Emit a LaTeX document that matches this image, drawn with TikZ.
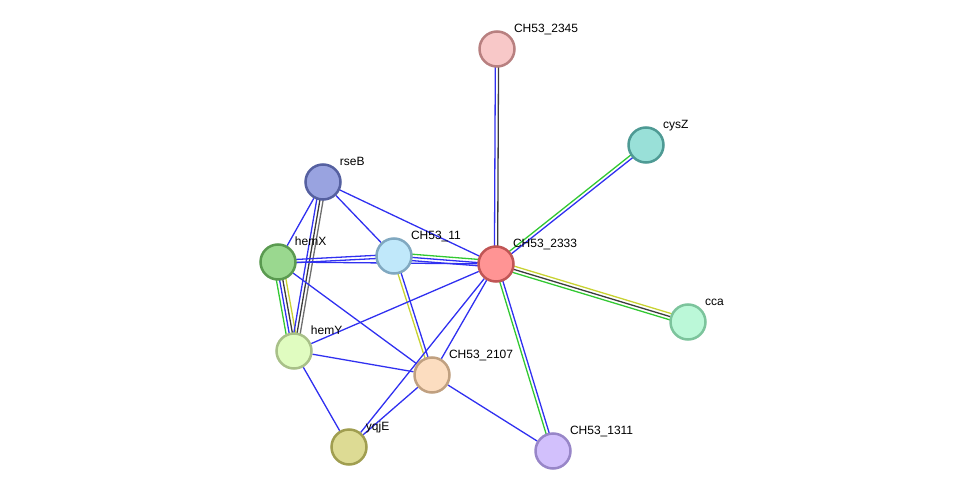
\documentclass[tikz,border=0pt]{standalone}
\usepackage{fontspec}
\setmainfont{Liberation Sans}
\usetikzlibrary{calc, backgrounds}

% protein colours (fill / border)
\definecolor{fa}{RGB}{248,200,200}\definecolor{da}{RGB}{184,128,128}
\definecolor{fb}{RGB}{153,224,216}\definecolor{db}{RGB}{78,154,148}
\definecolor{fc}{RGB}{153,163,224}\definecolor{dc}{RGB}{85,96,160}
\definecolor{fd}{RGB}{154,216,143}\definecolor{dd}{RGB}{90,154,80}
\definecolor{fe}{RGB}{192,232,250}\definecolor{de}{RGB}{128,168,192}
\definecolor{ff}{RGB}{255,148,148}\definecolor{df}{RGB}{192,85,85}
\definecolor{fg}{RGB}{187,248,216}\definecolor{dg}{RGB}{124,196,156}
\definecolor{fh}{RGB}{224,252,192}\definecolor{dh}{RGB}{168,192,136}
\definecolor{fi}{RGB}{252,221,192}\definecolor{di}{RGB}{192,160,128}
\definecolor{fj}{RGB}{221,219,148}\definecolor{dj}{RGB}{160,158,80}
\definecolor{fk}{RGB}{210,192,252}\definecolor{dk}{RGB}{152,134,200}
% evidence colours
\definecolor{eblue}{RGB}{48,48,240}
\definecolor{edark}{RGB}{60,60,60}
\definecolor{egray}{RGB}{110,110,110}
\definecolor{egreen}{RGB}{50,200,50}
\definecolor{eyellow}{RGB}{200,210,50}

% #1,#2 nodes, #3 number of lines, #4 colours
\newcommand{\slink}[4]{%
  \foreach \col [count=\k] in {#4}{
    \draw[edge, \col] let \p1=($(#2)-(#1)$), \n1={atan2(\y1,\x1)+90}, \n2={(\k-(#3+1)/2)*3.2} in
      ($(#1.center)+(\n1:\n2pt)$) -- ($(#2.center)+(\n1:\n2pt)$);
  }}

\tikzset{
  prot/.style={circle, draw, line width=2.5pt, minimum size=35pt, inner sep=0pt},
  lbl/.style={anchor=base west, inner sep=0pt, font=\fontsize{12}{14}\selectfont},
  edge/.style={line width=1.3pt},
  label distance=5pt
}

\begin{document}
\begin{tikzpicture}[x=1pt, y=1pt]
\useasboundingbox (0,0) rectangle (976,-497);

% proteins
\node[prot, fill=fa, draw=da, label={[lbl]45:CH53\_2345}] (n2345) at (497,-49) {};
\node[prot, fill=fb, draw=db, label={[lbl]45:cysZ}] (cysZ) at (646,-145) {};
\node[prot, fill=fc, draw=dc, label={[lbl]45:rseB}] (rseB) at (323,-182) {};
\node[prot, fill=fd, draw=dd, label={[lbl]45:hemX}] (hemX) at (278,-262) {};
\node[prot, fill=fe, draw=de, label={[lbl]45:CH53\_11}] (n11) at (394,-256) {};
\node[prot, fill=ff, draw=df, label={[lbl]45:CH53\_2333}] (n2333) at (496,-264) {};
\node[prot, fill=fg, draw=dg, label={[lbl]45:cca}] (cca) at (688,-322) {};
\node[prot, fill=fh, draw=dh, label={[lbl]45:hemY}] (hemY) at (294,-351) {};
\node[prot, fill=fi, draw=di, label={[lbl]45:CH53\_2107}] (n2107) at (432,-375) {};
\node[prot, fill=fj, draw=dj, label={[lbl]45:yqjE}] (yqjE) at (349,-447) {};
\node[prot, fill=fk, draw=dk, label={[lbl]45:CH53\_1311}] (n1311) at (553,-451) {};

% links
\begin{scope}[on background layer]
  \slink{n2345}{n2333}{2}{eblue,edark}
  \slink{cysZ}{n2333}{2}{egreen,eblue}
  \slink{n2333}{cca}{3}{egreen,edark,eyellow}
  \slink{n2333}{n1311}{2}{egreen,eblue}
  \slink{n11}{n2333}{3}{eblue,eblue,egreen}
  \slink{hemX}{hemY}{4}{egreen,eblue,edark,eyellow}
  \slink{rseB}{hemY}{3}{eblue,edark,egray}
  \slink{n11}{n2107}{2}{eyellow,eblue}
  \slink{hemX}{n11}{2}{eblue,eblue}
  \foreach \a/\b in {rseB/n2333, rseB/n11, rseB/hemX, hemX/n2333, hemX/n2107,
      hemY/n2333, hemY/n2107, hemY/yqjE, n2333/n2107, n2333/yqjE,
      n2107/yqjE, n2107/n1311}
    \draw[edge, eblue] (\a) -- (\b);
\end{scope}
\end{tikzpicture}
\end{document}
